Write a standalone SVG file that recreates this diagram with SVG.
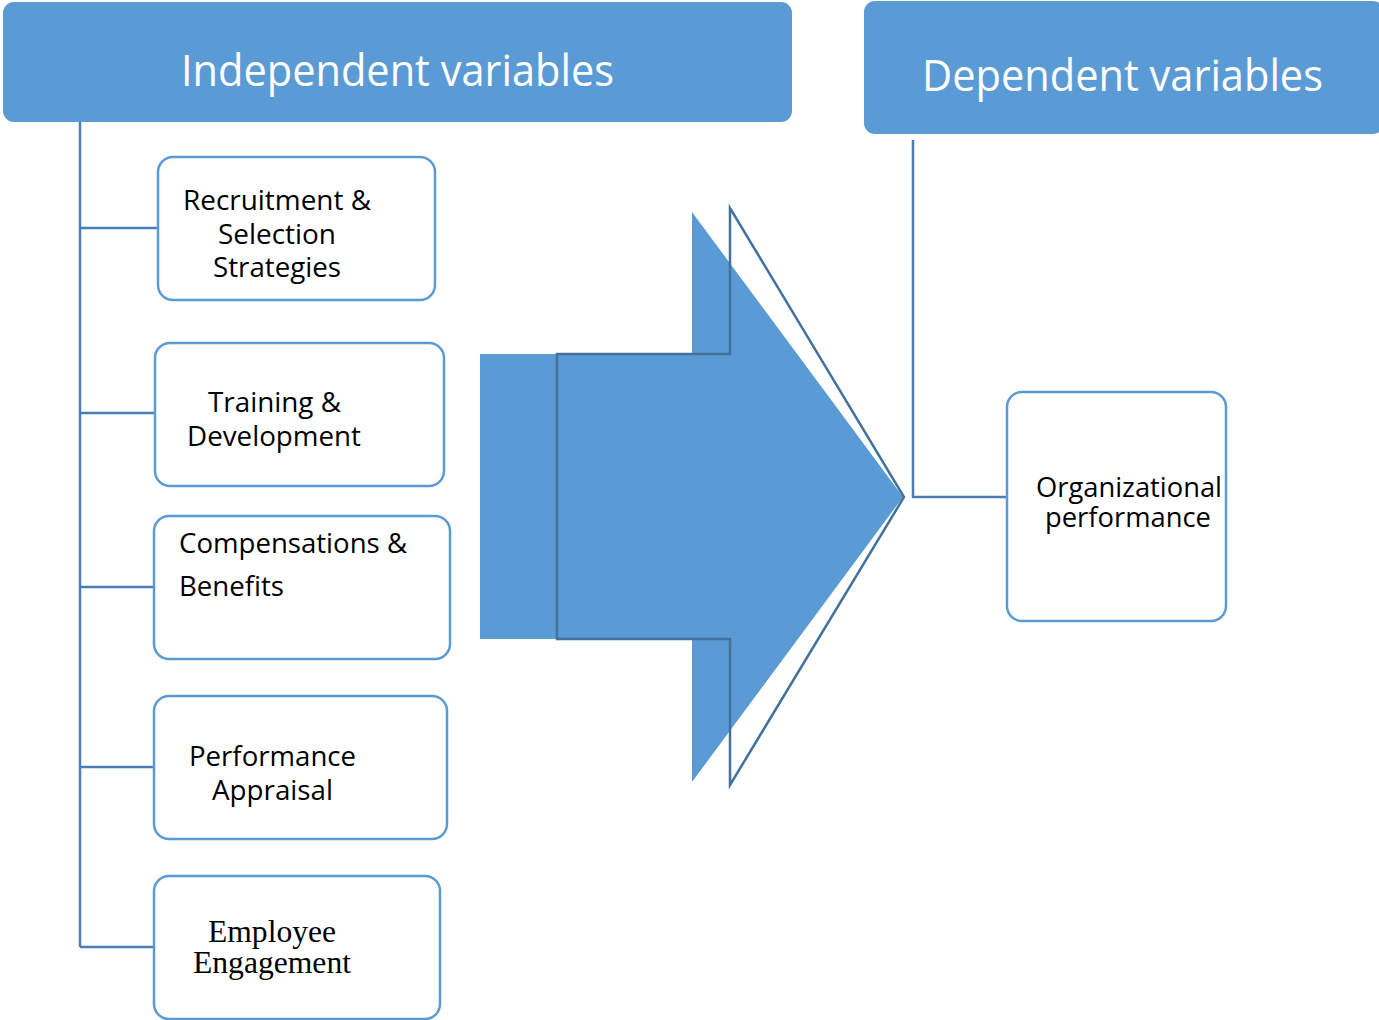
<svg xmlns="http://www.w3.org/2000/svg" width="1379" height="1020" viewBox="0 0 1379 1020">
  <style>
    .header { fill: #5B9BD5; }
    .header-text { font-family: "Open Sans", "Noto Sans", sans-serif; font-size: 44px; fill: #FFFFFF; }
    .box { fill: #FFFFFF; stroke: #5B9BD5; stroke-width: 2.5; }
    .label { font-family: "Open Sans", "Noto Sans", sans-serif; font-size: 27px; fill: #000000; }
    .label-serif { font-family: "Liberation Serif", "Times New Roman", serif; font-size: 31px; fill: #000000; }
    .link { fill: none; stroke: #4A7EBB; stroke-width: 2.5; }
    .arrow-fill { fill: #5B9BD5; }
    .arrow-outline { fill: none; stroke: #41719C; stroke-width: 2.5; stroke-linejoin: miter; }
  </style>

  <!-- connectors: left trunk with branches, right trunk to outcome -->
  <g id="connectors">
    <path class="link" d="M80,122 V947"/>
    <path class="link" d="M80,228 H158"/>
    <path class="link" d="M80,413 H155"/>
    <path class="link" d="M80,587 H154"/>
    <path class="link" d="M80,767 H154"/>
    <path class="link" d="M80,947 H154"/>
    <path class="link" d="M913,140 V497 H1007"/>
  </g>

  <!-- big block arrow between the two sides -->
  <g id="big-arrow">
    <path class="arrow-fill" d="M480,354 H692 V212 L903,497 L692,782 V639 H480 Z"/>
    <path class="arrow-outline" d="M557,354 H730 V208 L904,497 L730,785 V639 H557 Z"/>
  </g>

  <g id="independent-header">
    <rect class="header" x="3" y="2" width="789" height="120" rx="11"/>
    <text class="header-text" x="181" y="86" textLength="433" lengthAdjust="spacingAndGlyphs">Independent variables</text>
  </g>

  <g id="dependent-header">
    <rect class="header" x="864" y="1" width="520" height="133" rx="11"/>
    <text class="header-text" x="922" y="91" textLength="401" lengthAdjust="spacingAndGlyphs">Dependent variables</text>
  </g>

  <g id="recruitment">
    <rect class="box" x="158" y="157" width="277" height="143" rx="15"/>
    <text class="label" x="183" y="210" textLength="188" lengthAdjust="spacingAndGlyphs">Recruitment &amp;</text>
    <text class="label" x="218" y="244" textLength="118" lengthAdjust="spacingAndGlyphs">Selection</text>
    <text class="label" x="213" y="277" textLength="128" lengthAdjust="spacingAndGlyphs">Strategies</text>
  </g>

  <g id="training">
    <rect class="box" x="155" y="343" width="289" height="143" rx="15"/>
    <text class="label" x="208" y="412" textLength="133" lengthAdjust="spacingAndGlyphs">Training &amp;</text>
    <text class="label" x="187" y="446" textLength="174" lengthAdjust="spacingAndGlyphs">Development</text>
  </g>

  <g id="compensations">
    <rect class="box" x="154" y="516" width="296" height="143" rx="15"/>
    <text class="label" x="179" y="553" textLength="228" lengthAdjust="spacingAndGlyphs">Compensations &amp;</text>
    <text class="label" x="179" y="596" textLength="105" lengthAdjust="spacingAndGlyphs">Benefits</text>
  </g>

  <g id="appraisal">
    <rect class="box" x="154" y="696" width="293" height="143" rx="15"/>
    <text class="label" x="189" y="766" textLength="167" lengthAdjust="spacingAndGlyphs">Performance</text>
    <text class="label" x="212" y="800" textLength="121" lengthAdjust="spacingAndGlyphs">Appraisal</text>
  </g>

  <g id="engagement">
    <rect class="box" x="154" y="876" width="286" height="143" rx="15"/>
    <text class="label-serif" x="208" y="942" textLength="128" lengthAdjust="spacingAndGlyphs">Employee</text>
    <text class="label-serif" x="193" y="973" textLength="158" lengthAdjust="spacingAndGlyphs">Engagement</text>
  </g>

  <g id="organizational-performance">
    <rect class="box" x="1007" y="392" width="219" height="229" rx="15"/>
    <text class="label" x="1036" y="497" textLength="186" lengthAdjust="spacingAndGlyphs">Organizational</text>
    <text class="label" x="1045" y="527" textLength="166" lengthAdjust="spacingAndGlyphs">performance</text>
  </g>
</svg>
